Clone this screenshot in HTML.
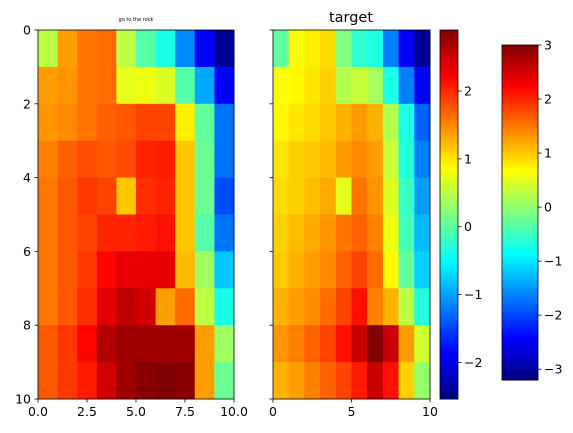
<!DOCTYPE html>
<html><head><meta charset="utf-8"><style>body{margin:0;background:#fff}svg{display:block;font-family:"DejaVu Sans","Liberation Sans",sans-serif}</style></head>
<body>
<svg id="c" width="573" height="433"></svg>
<script>
const leftData=[
[0.28,1.31,1.56,1.63,0.28,-0.36,-0.74,-1.64,-2.53,-3.17],
[1.31,1.37,1.56,1.63,0.54,0.6,0.48,-0.36,-1.44,-2.5],
[1.37,1.44,1.56,1.69,1.76,1.88,1.88,0.8,-0.29,-1.76],
[1.5,1.69,1.82,1.76,1.82,2.08,2.14,1.05,-0.23,-1.76],
[1.56,1.76,1.95,1.88,1.05,2.01,2.08,1.05,-0.23,-2.02],
[1.56,1.76,1.88,2.08,2.08,2.14,2.2,1.05,-0.36,-1.76],
[1.56,1.76,1.95,2.27,2.46,2.46,2.46,1.12,0.09,-1.25],
[1.56,1.76,2.01,2.46,2.72,2.59,1.31,1.63,0.28,-0.74],
[1.76,1.95,2.27,2.78,2.91,2.91,2.91,2.91,1.31,0.09],
[1.76,1.95,2.14,2.59,2.91,3.04,3.1,3.04,1.31,-0.23]];
const rightData=[
[-0.01,0.79,0.89,1.0,0.15,-0.27,-0.38,-1.18,-1.86,-2.39],
[0.79,0.84,0.95,1.05,0.42,0.52,0.36,-0.38,-1.18,-1.86],
[0.84,0.95,1.0,1.1,1.21,1.32,1.21,0.42,-0.38,-1.33],
[0.95,1.05,1.1,1.16,1.32,1.42,1.32,0.52,-0.33,-1.18],
[1.0,1.05,1.16,1.26,0.68,1.53,1.37,0.63,-0.22,-1.02],
[1.05,1.16,1.26,1.37,1.53,1.63,1.48,0.73,-0.17,-0.86],
[1.1,1.21,1.32,1.42,1.63,1.79,1.58,0.84,-0.01,-0.75],
[1.21,1.32,1.42,1.58,1.79,2.06,1.48,1.21,0.47,-0.33],
[1.37,1.48,1.63,1.79,2.06,2.43,2.8,2.43,1.32,0.57],
[1.21,1.32,1.48,1.63,1.79,2.0,2.43,2.06,1.05,0.26]];
const leftXTicks=["0.0","2.5","5.0","7.5","10.0"];
const rightXTicks=["0","5","10"];
const yTicks=["0","2","4","6","8","10"];
const cb1Ticks=[2,1,0,-1,-2];
const cb2Ticks=[3,2,1,0,-1,-2,-3];
const NS="http://www.w3.org/2000/svg",svg=document.getElementById('c');
function mk(t,a,p){const e=document.createElementNS(NS,t);for(const k in a)e.setAttribute(k,a[k]);(p||svg).appendChild(e);return e;}
function jet(t){t=Math.max(0,Math.min(1,t));const f=x=>Math.max(0,Math.min(1,1.5-Math.abs(4*t-x)));return `rgb(${Math.round(255*f(3))},${Math.round(255*f(2))},${Math.round(255*f(1))})`;}
function txt(x,y,s,anc,size,name){const e=mk('text',{x:x,y:y,'text-anchor':anc,'font-size':size,fill:'#000'});e.textContent=s;return e;}
function heat(data,x0,x1,y0,y1,vmin,vmax,name,xt,yLabels){
  const g=mk('g',{});
  const nr=data.length,nc=data[0].length;
  const sx=c=>x0+(x1-x0)*c/nc, sy=r=>y0+(y1-y0)*r/nr;
  data.forEach((row,r)=>row.forEach((v,c)=>{const e=mk('rect',{x:sx(c),y:sy(r),width:sx(c+1)-sx(c)+0.4,height:sy(r+1)-sy(r)+0.4,fill:jet((v-vmin)/(vmax-vmin))},g);
    }));
  const f=mk('rect',{x:x0,y:y0,width:x1-x0,height:y1-y0,fill:'none',stroke:'#000','stroke-width':0.8},g);
  
  xt.forEach((s,i)=>{const x=x0+(x1-x0)*i/(xt.length-1);mk('line',{x1:x,x2:x,y1:y1,y2:y1+3.5,stroke:'#000','stroke-width':0.8},g);txt(x,y1+17,s,'middle',12.5,'x-tick-label');});
  yTicks.forEach((s,i)=>{const y=y0+(y1-y0)*i/(yTicks.length-1);mk('line',{x1:x0-3.5,x2:x0,y1:y,y2:y,stroke:'#000','stroke-width':0.8},g);if(yLabels)txt(x0-7,y+4.5,s,'end',12.5,'y-tick-label');});
}
function cbar(x0,x1,y0,y1,vmin,vmax,ticks,name){
  const g=mk('g',{});
  const n=100;for(let i=0;i<n;i++){const e=mk('rect',{x:x0,y:y0+(y1-y0)*i/n,width:x1-x0,height:(y1-y0)/n+0.5,fill:jet(1-(i+0.5)/n)},g);}
  mk('rect',{x:x0,y:y0,width:x1-x0,height:y1-y0,fill:'none',stroke:'#000','stroke-width':0.8},g);
  ticks.forEach(v=>{const y=y1-(y1-y0)*(v-vmin)/(vmax-vmin);mk('line',{x1:x1,x2:x1+3.5,y1:y,y2:y,stroke:'#000','stroke-width':0.8},g);txt(x1+6,y+4.5,(v<0?'\u2212':'')+Math.abs(v),'start',12.5,'colorbar-tick-label');});
}
heat(leftData,38,234,30,399,-3.3,3.1,'left-heatmap',leftXTicks,true);
heat(rightData,273,430,30,399,-2.5,2.8,'right-heatmap',rightXTicks,false);
cbar(440,458,30,399,-2.54,2.9,cb1Ticks,'target-colorbar');
cbar(502,538,45,380,-3.2,3.0,cb2Ticks,'main-colorbar');
txt(136,21,'go to the rock','middle',5,'left-title');
txt(351,22,'target','middle',14.5,'right-title');
</script>
</body></html>
